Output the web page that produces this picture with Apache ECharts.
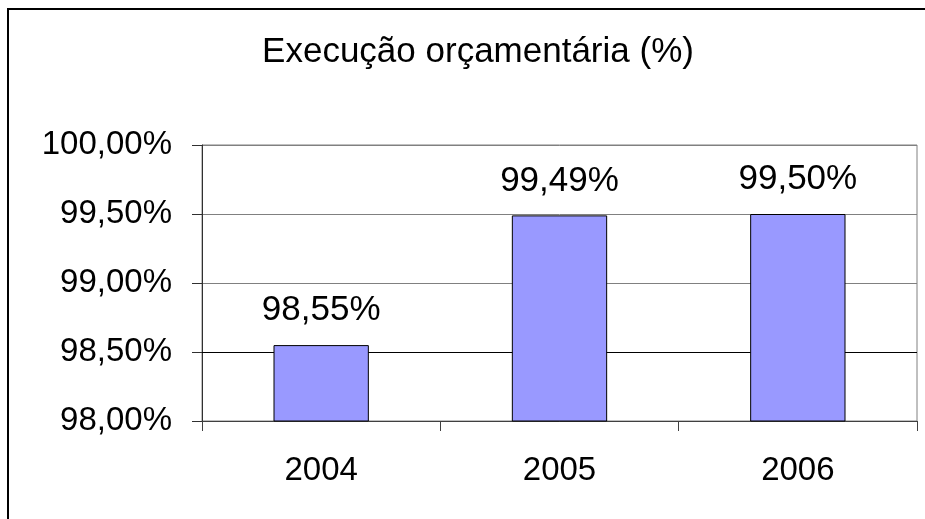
<!DOCTYPE html>
<html>
<head>
<meta charset="utf-8">
<script src="https://cdn.jsdelivr.net/npm/echarts@6/dist/echarts.min.js"></script>
<style>
    html, body { margin: 0; padding: 0; background: #ffffff; }
    #chart { width: 925px; height: 519px; }
</style>
</head>
<body>
<div id="chart"></div>
<script>
// dados do gráfico
var anos = ['2004', '2005', '2006'];
var execucao = [98.55, 99.49, 99.50];
var yMin = 98, yMax = 100, yStep = 0.5;

var fonte = "'Liberation Sans', Arial, sans-serif";

function pct(v) {
    return v.toFixed(2).replace('.', ',') + '%';
}

var myChart = echarts.init(document.getElementById('chart'));
var option = {
    animation: false,
    backgroundColor: '#ffffff',
    title: {
        text: 'Execução orçamentária (%)',
        left: 473,
        top: 30,
        textAlign: 'center',
        textStyle: { fontFamily: fonte, fontSize: 35, fontWeight: 'normal', color: '#000' }
    },
    graphic: [{
        type: 'rect',
        shape: { x: 8, y: 9, width: 940, height: 540 },
        style: { fill: 'none', stroke: '#000', lineWidth: 2 },
        silent: true
    }],
    grid: {
        left: 202,
        right: 8,
        top: 145,
        bottom: 98,
        show: true,
        borderColor: '#808080',
        borderWidth: 1
    },
    xAxis: {
        type: 'category',
        data: anos,
        boundaryGap: true,
        axisLine: { lineStyle: { color: '#404040', width: 1 } },
        axisTick: { show: true, length: 10, inside: false, alignWithLabel: false, lineStyle: { color: '#404040' } },
        axisLabel: { fontFamily: fonte, fontSize: 33, color: '#000', margin: 33 }
    },
    yAxis: {
        type: 'value',
        min: yMin,
        max: yMax,
        interval: yStep,
        axisLine: { show: true, lineStyle: { color: '#303030', width: 1 } },
        axisTick: { show: true, length: 10, lineStyle: { color: '#303030' } },
        splitLine: { show: true, lineStyle: { color: '#808080', width: 1 } },
        axisLabel: {
            fontFamily: fonte, fontSize: 33, color: '#000', margin: 30,
            formatter: function(v) { return pct(v); }
        }
    },
    series: [{
        type: 'bar',
        data: execucao,
        barWidth: '40%',
        z: 3,
        itemStyle: { color: '#9999FF', borderColor: '#000', borderWidth: 1 },
        label: {
            show: true,
            position: 'top',
            distance: 17,
            fontFamily: fonte,
            fontSize: 35,
            color: '#000',
            formatter: function(p) { return pct(p.value); }
        },
        markLine: {
            silent: true,
            symbol: 'none',
            z: 1,
            label: { show: false },
            lineStyle: { color: '#000', type: 'solid', width: 1 },
            data: [{ yAxis: 98.5 }]
        }
    }]
};
myChart.setOption(option);
</script>
</body>
</html>
